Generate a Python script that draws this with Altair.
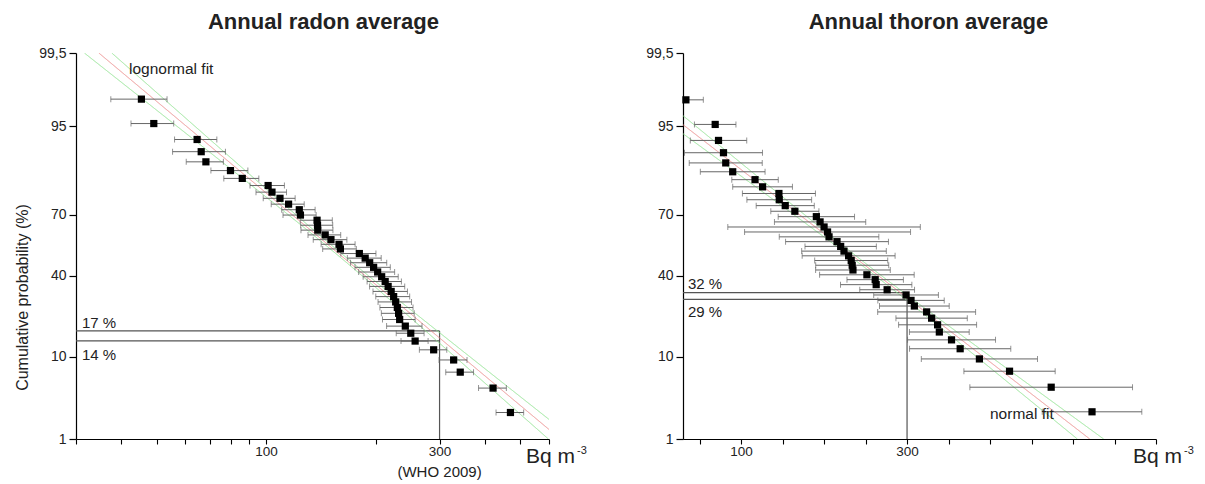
import altair as alt
import numpy as np
import pandas as pd
from statistics import NormalDist

_nd = NormalDist()


def probit(pct):
    return _nd.inv_cdf(pct / 100.0)


# ---------------- data ----------------
radon_bq = [470, 421, 342, 328, 289, 257, 250, 241.5, 233, 231.5, 229.6, 227.2, 224.3, 220.8,
            216.6, 212.6, 207.9, 202.7, 197.6, 192.7, 187.3, 180.5, 160.1, 158.7, 150.8, 145.4,
            138.7, 138.5, 138.1, 124.3, 123.4, 115.3, 109.2, 103.8, 101.3, 86.0, 79.8, 68.3,
            66.3, 64.6, 49.1, 45.4]
radon_err = [41, 37, 30, 29, 25, 22, 22, 27, 24, 24, 24, 24, 24, 24, 24, 23, 23, 23, 22, 22,
             20, 20, 17, 17, 16, 15, 14, 14, 14, 13, 13, 12, 11, 10, 11, 9.5, 9.3, 8, 11, 8.6,
             6.6, 8]
radon_pct = [2.33, 4.65, 6.98, 9.30, 11.63, 13.95, 16.28, 18.60, 20.93, 23.26, 25.58, 27.91,
             30.23, 32.56, 34.88, 37.21, 39.53, 41.86, 44.19, 46.51, 48.84, 51.16, 53.49, 55.81,
             58.14, 60.47, 62.79, 65.12, 67.44, 69.77, 72.09, 74.42, 76.74, 79.07, 81.40, 83.72,
             86.05, 88.37, 90.70, 93.02, 95.35, 97.67]

thoron_bq = [522.9, 473.7, 423.5, 387.2, 364, 353.6, 338.9, 336.8, 329.6, 323.6, 308.8, 304.8,
             298.8, 276, 262.8, 261.6, 251.6, 234.8, 233.9, 232.7, 229.6, 224, 220, 215.6, 206,
             204.2, 200, 195.2, 190.7, 164.8, 153.2, 146, 145.6, 125.9, 116.8, 89.9, 81.5, 78.8,
             72.8, 68.8, 33.5]
thoron_err = [60, 98, 55, 70, 61, 53, 36, 47, 43, 59, 42, 40, 39, 33, 43, 34, 57, 45, 44, 44,
              56, 51, 43, 62, 60, 100, 116, 55, 46, 29, 35, 39, 44, 36, 28, 39, 44, 47, 34, 25, 21]
thoron_pct = [2.38, 4.76, 7.14, 9.52, 11.90, 14.29, 16.67, 19.05, 21.43, 23.81, 26.19, 28.57,
              30.95, 33.33, 35.71, 38.10, 40.48, 42.86, 45.24, 47.62, 50.00, 52.38, 54.76, 57.14,
              59.52, 61.90, 64.29, 66.67, 69.05, 71.43, 73.81, 76.19, 78.57, 80.95, 83.33, 85.71,
              88.10, 90.48, 92.86, 95.24, 97.62]

# fitted distributions (lognormal in log10 units / normal) and confidence-band shape
RADON_FIT = {"m": 2.207, "s": 0.259, "a": 0.03, "b": 0.215, "c": 2.2}
THORON_FIT = {"mean": 234.5, "sd": 122.8, "a": 0.03, "b": 0.00048, "c": 260}

X_DOMAIN = [30, 600]
RADON_XTICKS = [30, 40, 50, 60, 70, 80, 90, 100, 200, 300, 400, 500, 600]
THORON_XTICKS = [50, 100, 150, 200, 250, 300, 350, 400, 450, 500, 550, 600]
X_LABELLED = [100, 300]
Y_TICKS = [1, 10, 40, 70, 95, 99.5]
Y_LABELS = ["1", "10", "40", "70", "95", "99,5"]
LIMIT_BQ = 300
RADON_REF_PCT = [17, 14]
THORON_REF_PCT = [32, 29]

# ---------------- styling ----------------
FONT = "Liberation Sans"
TXT = "#222222"
W, H = 473, 386
GAP = 134
RED = "#f08a8a"
GREEN = "#90e890"
BAR = "#666666"

ytick_z = [probit(v) for v in Y_TICKS]
ZLO, ZHI = ytick_z[0], ytick_z[-1]
label_expr = "".join(
    f"abs(datum.value - ({zz:.6f})) < 0.001 ? '{lab}' : " for zz, lab in zip(ytick_z, Y_LABELS)
) + "''"

yscale = alt.Scale(domain=[ZLO, ZHI], nice=False, zero=False)


def y_axis(title):
    kw = dict(values=ytick_z, labelExpr=label_expr, tickSize=7, labelPadding=3,
              labelFontSize=14, labelFont=FONT, labelColor=TXT, domainColor="black",
              tickColor="black", domainWidth=1.2, tickWidth=1.2, grid=False,
              labelOverlap=False)
    if title:
        kw.update(title=title, titleFont=FONT, titleFontSize=16, titleFontWeight="normal",
                  titleColor=TXT, titleAngle=270, titleX=-49, titleY=244,
                  titleBaseline="alphabetic", titleAlign="center")
    else:
        kw.update(title=None)
    return alt.Axis(**kw)


def x_axis(values):
    lab = " || ".join(f"datum.value == {v}" for v in X_LABELLED)
    return alt.Axis(values=values, labelExpr=f"({lab}) ? datum.value : ''", tickSize=5,
                    labelPadding=0, labelFontSize=13.5, labelFont=FONT, labelColor=TXT,
                    domainColor="black", tickColor="black", domainWidth=1.2, tickWidth=1.1,
                    grid=False, labelOverlap=False, labelFlush=False, title=None)


def in_view(df):
    return df[(df["z"] >= ZLO) & (df["z"] <= ZHI)]


def panel(bq, err, pct, xscale, xaxis, yaxis, curves, ref_pct, texts, title, title_dx):
    X = lambda f: alt.X(f, scale=xscale, axis=xaxis)
    Y = lambda f: alt.Y(f, scale=yscale, axis=yaxis)

    pts = pd.DataFrame({
        "bq": bq, "z": [probit(p) for p in pct],
        "lo": [max(b - e, X_DOMAIN[0]) for b, e in zip(bq, err)],
        "hi": [b + e for b, e in zip(bq, err)],
        "lo_cap": [b - e for b, e in zip(bq, err)],
    })
    caps_lo = pts[pts["lo_cap"] >= X_DOMAIN[0]]

    href = pd.DataFrame({"x0": [X_DOMAIN[0]] * len(ref_pct), "x1": [LIMIT_BQ] * len(ref_pct),
                         "z": [probit(p) for p in ref_pct]})
    vref = pd.DataFrame({"x": [LIMIT_BQ], "z": [probit(Y_TICKS[0])],
                         "z2": [probit(max(ref_pct))]})

    layers = [
        alt.Chart(href).mark_rule(color="#555555", strokeWidth=1.2).encode(
            x=X("x0:Q"), x2="x1:Q", y=Y("z:Q")),
        alt.Chart(vref).mark_rule(color="#555555", strokeWidth=1.2).encode(
            x=X("x:Q"), y=Y("z:Q"), y2="z2:Q"),
        alt.Chart(curves).mark_line(clip=True, strokeWidth=1).encode(
            x=X("x:Q"), y=Y("z:Q"), detail="series:N",
            color=alt.Color("kind:N", scale=alt.Scale(domain=["fit", "band"],
                                                      range=[RED, GREEN]), legend=None)),
        alt.Chart(pts).mark_rule(color=BAR, strokeWidth=1).encode(
            x=X("lo:Q"), x2="hi:Q", y=Y("z:Q")),
        alt.Chart(caps_lo).mark_tick(color=BAR, orient="vertical", size=6,
                                     thickness=1).encode(x=X("lo:Q"), y=Y("z:Q")),
        alt.Chart(pts).mark_tick(color=BAR, orient="vertical", size=6,
                                 thickness=1).encode(x=X("hi:Q"), y=Y("z:Q")),
        alt.Chart(pts).mark_square(color="black", size=52, opacity=1).encode(
            x=X("bq:Q"), y=Y("z:Q")),
    ]
    for t in texts:
        df = pd.DataFrame({"x": [t["x"]], "z": [probit(t["pct"])], "t": [t["text"]]})
        layers.append(
            alt.Chart(df).mark_text(font=FONT, fontSize=t["size"], color=TXT,
                                    align=t.get("align", "left"), baseline="alphabetic",
                                    dx=t["dx"], dy=t["dy"]).encode(
                x=X("x:Q"), y=Y("z:Q"), text="t:N"))
    return alt.layer(*layers).properties(
        width=W, height=H,
        title=alt.TitleParams(title, font=FONT, fontSize=22, fontWeight="bold", color=TXT,
                              anchor="middle", frame="group", dx=title_dx, offset=-5,
                              baseline="alphabetic"))


# fit curves (kept inside the probability range of the axis)
rx = np.geomspace(X_DOMAIN[0], X_DOMAIN[1], 3000)
lx = np.log10(rx)
rz = -(lx - RADON_FIT["m"]) / RADON_FIT["s"]
rd = np.sqrt(RADON_FIT["a"] ** 2 + (RADON_FIT["b"] * (lx - RADON_FIT["c"])) ** 2)
radon_curves = pd.concat([
    in_view(pd.DataFrame({"x": rx, "z": rz, "series": "fit", "kind": "fit"})),
    in_view(pd.DataFrame({"x": rx, "z": rz + rd, "series": "up", "kind": "band"})),
    in_view(pd.DataFrame({"x": rx, "z": rz - rd, "series": "dn", "kind": "band"})),
])

tx = np.linspace(X_DOMAIN[0], X_DOMAIN[1], 3000)
tz = -(tx - THORON_FIT["mean"]) / THORON_FIT["sd"]
td = np.sqrt(THORON_FIT["a"] ** 2 + (THORON_FIT["b"] * (tx - THORON_FIT["c"])) ** 2)
thoron_curves = pd.concat([
    in_view(pd.DataFrame({"x": tx, "z": tz, "series": "fit", "kind": "fit"})),
    in_view(pd.DataFrame({"x": tx, "z": tz + td, "series": "up", "kind": "band"})),
    in_view(pd.DataFrame({"x": tx, "z": tz - td, "series": "dn", "kind": "band"})),
])

unit_texts = [
    {"text": "Bq m", "x": X_DOMAIN[1], "pct": 1, "dx": -23, "dy": 24, "size": 21},
    {"text": "-3", "x": X_DOMAIN[1], "pct": 1, "dx": 28, "dy": 15, "size": 11},
]

left = panel(
    radon_bq, radon_err, radon_pct,
    alt.Scale(type="log", domain=X_DOMAIN, nice=False), x_axis(RADON_XTICKS),
    y_axis("Cumulative probability (%)"), radon_curves, RADON_REF_PCT,
    unit_texts + [
        {"text": "(WHO 2009)", "x": LIMIT_BQ, "pct": 1, "dx": 0, "dy": 38, "size": 15,
         "align": "center"},
        {"text": "lognormal fit", "x": X_DOMAIN[0], "pct": 99.5, "dx": 53, "dy": 21,
         "size": 15.5},
        {"text": "17 %", "x": X_DOMAIN[0], "pct": 17, "dx": 6, "dy": -3, "size": 15},
        {"text": "14 %", "x": X_DOMAIN[0], "pct": 14, "dx": 6, "dy": 19, "size": 15},
    ],
    "Annual radon average", 11)

right = panel(
    thoron_bq, thoron_err, thoron_pct,
    alt.Scale(type="linear", domain=X_DOMAIN, nice=False, zero=False), x_axis(THORON_XTICKS),
    y_axis(None), thoron_curves, THORON_REF_PCT,
    unit_texts + [
        {"text": "normal fit", "x": X_DOMAIN[1], "pct": 1, "dx": -166, "dy": -20,
         "size": 15.5},
        {"text": "32 %", "x": X_DOMAIN[0], "pct": 32, "dx": 5, "dy": -3.5, "size": 15},
        {"text": "29 %", "x": X_DOMAIN[0], "pct": 29, "dx": 5, "dy": 18, "size": 15},
    ],
    "Annual thoron average", 9)

chart = alt.hconcat(left, right, spacing=GAP, bounds="flush").configure_view(
    stroke=None).properties(padding={"left": 14, "top": 11, "right": 0, "bottom": 0},
                            background="white")

chart.save("out.html", embed_options={"renderer": "svg", "actions": False})
